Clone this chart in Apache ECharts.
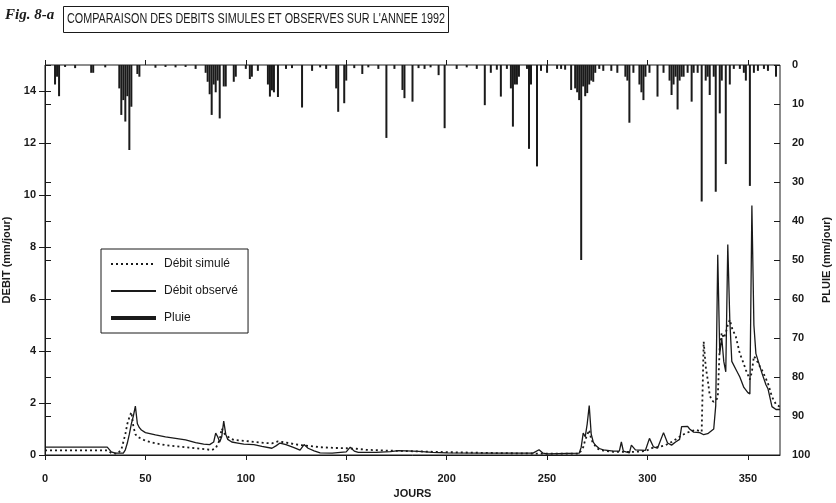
<!DOCTYPE html>
<html>
<head>
<meta charset="utf-8">
<script src="https://cdn.jsdelivr.net/npm/echarts@6/dist/echarts.min.js"></script>
<style>
  html, body { margin: 0; padding: 0; background: #fff; }
  #chart { width: 836px; height: 503px; }
</style>
</head>
<body>
<div id="chart"></div>
<script>
const chart = echarts.init(document.getElementById('chart'))

// tick values
const dayTicks = [0, 50, 100, 150, 200, 250, 300, 350]
const debitTicks = [0, 2, 4, 6, 8, 10, 12, 14]
const pluieTicks = [0, 10, 20, 30, 40, 50, 60, 70, 80, 90, 100]

// daily rain [day, mm/jour]
const pluie = [
  [5, 5], [6, 3], [7, 8], [10, 0.5], [15, 0.8], [23, 2], [24, 2], [30, 0.6],
  [37, 6], [38, 12.8], [39, 9], [40, 14.5], [41, 8], [42, 21.8], [43, 10.7], [46, 2.3], [47, 3],
  [55, 0.7], [60, 0.5], [65, 0.6], [70, 0.5], [75, 1],
  [80, 2], [81, 4.3], [82, 7.5], [83, 12.8], [84, 5], [85, 7], [86, 4], [87, 13.7], [89, 5.5], [90, 5.5],
  [94, 4.3], [95, 3], [100, 1], [102, 3.6], [103, 3], [106, 1.5],
  [111, 5], [112, 8.1], [113, 6.5], [114, 7], [116, 8.2], [120, 1], [123, 0.8],
  [128, 10.9], [133, 1.5], [137, 0.6], [140, 1],
  [145, 6], [146, 12], [149, 9.8], [150, 4], [154, 0.8], [158, 2.3], [161, 0.6], [166, 1],
  [170, 18.7], [174, 1], [178, 6.4], [179, 8.5], [183, 9.4], [186, 0.8],
  [189, 1], [192, 0.6], [196, 2.6], [199, 16.2], [205, 1], [210, 0.6], [215, 1],
  [219, 10.3], [222, 2], [225, 1.2], [227, 8.1], [230, 1],
  [232, 6], [233, 15.8], [234, 5], [235, 5], [236, 3], [240, 1],
  [241, 21.5], [242, 5], [245, 26], [247, 1.5], [250, 2], [255, 1], [257, 1], [259, 1.2],
  [262, 6.4], [264, 6], [265, 7], [266, 9], [267, 50], [268, 5.5], [269, 8], [270, 7.2],
  [271, 5], [272, 4], [273, 4.3], [274, 2], [276, 1], [278, 1.5], [282, 1.5], [285, 2],
  [289, 3], [290, 4], [291, 14.8], [293, 2],
  [296, 5], [297, 7], [298, 9], [299, 3], [301, 2], [305, 8.1], [308, 2],
  [311, 4], [312, 7.7], [313, 5], [314, 3], [315, 11.4], [316, 4], [317, 3], [318, 3],
  [320, 2], [322, 9.4], [323, 2], [325, 2], [327, 35], [329, 4], [330, 3], [331, 7.7], [333, 3],
  [334, 32.5], [336, 12.4], [337, 4], [339, 25.4], [341, 5], [343, 1], [346, 1],
  [348, 2], [349, 4], [351, 31], [353, 2], [355, 1.5], [358, 1], [360, 1.5], [364, 3]
]

// simulated discharge [day, mm/jour]
const debitSimule = [
  [0, 0.18], [31, 0.18], [33, 0.08], [36, 0.05], [38, 0.2], [39, 0.5], [40, 0.8], [41, 1.2],
  [42, 1.45], [43, 1.65], [44, 1.1], [45, 0.8], [46, 0.7], [50, 0.55], [55, 0.45], [60, 0.38],
  [70, 0.3], [80, 0.22], [83, 0.19], [85, 0.26], [87, 0.58], [88, 1.02], [89, 0.85], [90, 0.77],
  [92, 0.65], [94, 0.58], [100, 0.54], [105, 0.5], [110, 0.46], [113, 0.45], [116, 0.52],
  [118, 0.5], [122, 0.45], [127, 0.38], [130, 0.36], [137, 0.3], [145, 0.27], [150, 0.26],
  [155, 0.24], [160, 0.2], [170, 0.17], [180, 0.15], [190, 0.13], [200, 0.11], [220, 0.08],
  [240, 0.06], [250, 0.05], [266, 0.05], [268, 0.3], [269, 0.58], [271, 0.96], [272, 0.6],
  [273, 0.45], [275, 0.25], [277, 0.18], [283, 0.12], [293, 0.12], [299, 0.15], [302, 0.26],
  [306, 0.32], [309, 0.38], [312, 0.5], [314, 0.6], [317, 0.75], [319, 0.84], [322, 0.92],
  [324, 0.97], [327, 0.9], [328, 4.36], [329, 3.4], [330, 2.9], [331, 2.3], [332, 2.1],
  [333, 2.05], [334, 2.1], [335, 2.2], [336, 4.2], [337, 4.7], [338, 4.5], [339, 4.7],
  [340, 5.0], [341, 5.2], [342, 4.9], [344, 4.55], [346, 3.9], [348, 3.5], [349, 3.27],
  [351, 2.9], [352, 3.2], [353, 3.8], [354, 3.7], [356, 3.4], [357, 3.27], [360, 2.76],
  [362, 2.24], [364, 1.95], [366, 1.85]
]

// observed discharge [day, mm/jour]
const debitObserve = [
  [0, 0.3], [31, 0.3], [33, 0.12], [35, 0.07], [39, 0.07], [40, 0.2], [41, 0.46], [42, 0.8],
  [43, 1.2], [44, 1.5], [45, 1.88], [46, 1.2], [47, 1.05], [48, 0.96], [50, 0.86], [55, 0.77],
  [60, 0.7], [65, 0.64], [70, 0.58], [75, 0.48], [79, 0.42], [82, 0.4], [84, 0.5], [85, 0.84],
  [86, 0.7], [87, 0.5], [88, 0.7], [89, 1.3], [90, 0.8], [91, 0.6], [93, 0.5], [96, 0.46],
  [99, 0.42], [104, 0.4], [108, 0.33], [113, 0.26], [115, 0.35], [117, 0.46], [120, 0.4],
  [124, 0.28], [127, 0.19], [129, 0.4], [131, 0.26], [134, 0.16], [137, 0.08], [143, 0.07],
  [150, 0.12], [152, 0.3], [154, 0.15], [156, 0.1], [165, 0.1], [172, 0.13], [176, 0.17],
  [180, 0.16], [186, 0.14], [193, 0.1], [200, 0.08], [220, 0.07], [243, 0.07], [246, 0.2],
  [248, 0.07], [250, 0.04], [266, 0.07], [267, 0.3], [268, 0.84], [269, 0.7], [270, 1.2],
  [271, 1.9], [272, 0.8], [273, 0.5], [274, 0.38], [276, 0.25], [278, 0.2], [283, 0.15],
  [286, 0.15], [287, 0.5], [288, 0.15], [291, 0.08], [292, 0.38], [294, 0.2], [299, 0.18],
  [301, 0.64], [303, 0.31], [305, 0.26], [308, 0.86], [310, 0.46], [312, 0.38], [314, 0.5],
  [316, 0.6], [317, 1.09], [320, 1.1], [321, 1.0], [323, 0.88], [326, 0.86], [328, 0.78],
  [330, 0.82], [333, 1.0], [334, 1.9], [335, 7.7], [336, 3.9], [337, 4.5], [338, 3.6],
  [339, 3.2], [340, 8.1], [341, 5.2], [342, 3.6], [344, 3.3], [346, 3.0], [348, 2.6],
  [350, 2.4], [351, 2.35], [352, 9.6], [353, 5], [354, 3.9], [356, 3.4], [357, 3.15],
  [359, 2.7], [360, 2.55], [362, 1.86], [364, 1.75], [366, 1.75]
]

const ink = '#1a1a1a'
const sans = '"Liberation Sans", Arial, sans-serif'
const tickLine = { color: ink, width: 1 }
const labelStyle = { color: ink, fontFamily: sans, fontSize: 11, fontWeight: 'bold' }
const nameStyle = { color: ink, fontFamily: sans, fontSize: 11, fontWeight: 'bold' }
// line legend items: keep the line, hide the marker dot
const noDot = { color: 'rgba(0,0,0,0)', borderWidth: 0, opacity: 0 }

const option = {
  backgroundColor: '#fff',
  animation: false,
  title: {
    text: 'Fig. 8-a',
    left: 5,
    top: 8,
    padding: 0,
    textStyle: { fontFamily: '"Liberation Serif", serif', fontStyle: 'italic', fontWeight: 'bold', fontSize: 15, color: ink },
  },
  // boxed heading, squeezed horizontally like the condensed original
  graphic: [
    {
      type: 'rect',
      left: 63,
      top: 6,
      shape: { width: 385, height: 26 },
      style: { fill: '#fff', stroke: ink, lineWidth: 1 },
    },
    {
      type: 'text',
      x: 67,
      y: 19,
      scaleX: 0.72,
      style: {
        text: "COMPARAISON DES DEBITS SIMULES ET OBSERVES SUR L'ANNEE 1992",
        font: '15px "Liberation Sans", Arial, sans-serif',
        fill: ink,
        verticalAlign: 'middle',
      },
    },
  ],
  legend: {
    orient: 'vertical',
    left: 101,
    top: 249,
    padding: [9, 10, 9, 9],
    itemGap: 15,
    itemWidth: 45,
    itemHeight: 12,
    borderColor: ink,
    borderWidth: 1,
    backgroundColor: '#fff',
    textStyle: { fontFamily: sans, fontSize: 12, color: ink, padding: [0, 0, 0, 3] },
    data: [
      { name: 'Débit simulé', itemStyle: noDot },
      { name: 'Débit observé', itemStyle: noDot },
      { name: 'Pluie', icon: 'path://M0,0H45V4H0Z' },
    ],
  },
  grid: {
    left: 45,
    right: 56,
    top: 65,
    bottom: 48,
    outerBoundsMode: 'none',
    containLabel: false,
    show: true,
    borderColor: ink,
    borderWidth: 1,
  },
  xAxis: [
    {
      type: 'value',
      min: 0,
      max: 366,
      position: 'bottom',
      name: 'JOURS',
      nameLocation: 'middle',
      nameGap: 33,
      nameTextStyle: nameStyle,
      axisLine: { lineStyle: tickLine },
      axisTick: { customValues: dayTicks, length: 5, lineStyle: tickLine },
      axisLabel: { customValues: dayTicks, margin: 18, ...labelStyle },
      splitLine: { show: false },
    },
    {
      // inner half of the crossing ticks
      type: 'value',
      min: 0,
      max: 366,
      position: 'bottom',
      axisLine: { show: false },
      axisTick: { inside: true, customValues: dayTicks, length: 5, lineStyle: tickLine },
      axisLabel: { show: false },
      splitLine: { show: false },
    },
  ],
  yAxis: [
    {
      type: 'value',
      min: 0,
      max: 15,
      position: 'left',
      name: 'DEBIT (mm/jour)',
      nameLocation: 'middle',
      nameRotate: 90,
      nameGap: 33,
      nameTextStyle: nameStyle,
      axisLine: { show: true, lineStyle: tickLine },
      axisTick: { show: true, customValues: debitTicks, length: 6, lineStyle: tickLine },
      axisLabel: { customValues: debitTicks, margin: 9, ...labelStyle },
      splitLine: { show: false },
    },
    {
      type: 'value',
      min: 0,
      max: 100,
      inverse: true,
      position: 'right',
      name: 'PLUIE (mm/jour)',
      nameLocation: 'middle',
      nameRotate: 90,
      nameGap: 37,
      nameTextStyle: nameStyle,
      axisLine: { show: true, lineStyle: tickLine },
      axisTick: { show: true, customValues: pluieTicks, length: 6, lineStyle: tickLine },
      axisLabel: { customValues: pluieTicks, margin: 12, ...labelStyle },
      splitLine: { show: false },
    },
    {
      type: 'value',
      min: 0,
      max: 15,
      position: 'left',
      axisLine: { show: false },
      axisTick: { show: true, inside: true, customValues: debitTicks, length: 6, lineStyle: tickLine },
      axisLabel: { show: false },
      splitLine: { show: false },
    },
    {
      type: 'value',
      min: 0,
      max: 100,
      inverse: true,
      position: 'right',
      axisLine: { show: false },
      axisTick: { show: true, inside: true, customValues: pluieTicks, length: 6, lineStyle: tickLine },
      axisLabel: { show: false },
      splitLine: { show: false },
    },
  ],
  series: [
    {
      name: 'Pluie',
      type: 'bar',
      xAxisIndex: 0,
      yAxisIndex: 1,
      barWidth: 2,
      itemStyle: { color: ink },
      data: pluie,
      z: 2,
    },
    {
      name: 'Débit simulé',
      type: 'line',
      xAxisIndex: 0,
      yAxisIndex: 0,
      symbol: 'none',
      showSymbol: false,
      itemStyle: { color: ink },
      lineStyle: { color: ink, width: 1.8, type: [2, 3] },
      data: debitSimule,
      z: 3,
    },
    {
      name: 'Débit observé',
      type: 'line',
      xAxisIndex: 0,
      yAxisIndex: 0,
      symbol: 'none',
      showSymbol: false,
      itemStyle: { color: ink },
      lineStyle: { color: ink, width: 1.3 },
      data: debitObserve,
      z: 4,
    },
  ],
}

chart.setOption(option)
</script>
</body>
</html>
